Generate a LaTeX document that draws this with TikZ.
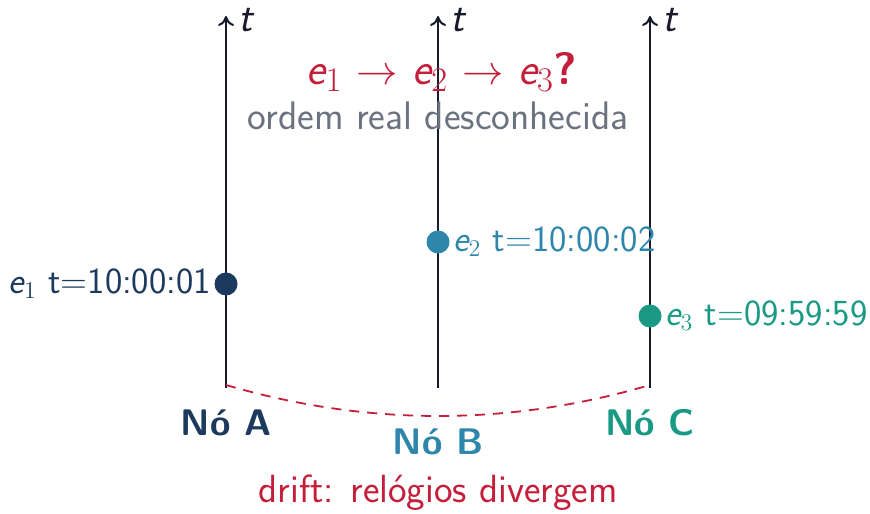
\documentclass[tikz,border=0pt]{standalone}
\usepackage{tikz}
\usetikzlibrary{arrows.meta}
\definecolor{cA}{HTML}{1C3A5E}
\definecolor{cB}{HTML}{2E86AB}
\definecolor{cC}{HTML}{1A9A85}
\definecolor{cRed}{HTML}{C41E3A}
\definecolor{cGray}{HTML}{6B7280}
\definecolor{cLine}{HTML}{1A1A2E}
\begin{document}
\begin{tikzpicture}[x=0.5pt,y=0.5pt,
  font=\sffamily,
  timeline/.style={draw=cLine,line width=1pt,-{To[length=5pt,width=8pt]}},
  evdot/.style={circle,fill=#1,inner sep=0pt,minimum size=11.5pt},
  evlabel/.style={text=#1,font=\sffamily\fontsize{18.4}{22}\selectfont,inner sep=1.5pt},
  nodelabel/.style={text=#1,font=\sffamily\bfseries\fontsize{18.5}{22}\selectfont},
  tlabel/.style={text=cLine,font=\sffamily\fontsize{21}{24}\selectfont,inner sep=1pt}]
\useasboundingbox (0,0) rectangle (870,513);
% timelines
\coordinate (Abot) at (226,125);
\coordinate (Atop) at (226,497);
\coordinate (Bbot) at (438,125);
\coordinate (Btop) at (438,497);
\coordinate (Cbot) at (650,125);
\coordinate (Ctop) at (650,497);
\draw[timeline] (Abot) -- (Atop);
\draw[timeline] (Bbot) -- (Btop);
\draw[timeline] (Cbot) -- (Ctop);
\node[tlabel,anchor=west] (tA) at (236,493) {\itshape t};
\node[tlabel,anchor=west] (tB) at (448,493) {\itshape t};
\node[tlabel,anchor=west] (tC) at (660,493) {\itshape t};
% events
\node[evdot=cA] (e1) at (226,229) {};
\node[evdot=cB] (e2) at (438,271) {};
\node[evdot=cC] (e3) at (650,197) {};
\node[evlabel=cA,anchor=east] (l1) at (e1.west) {{\itshape e}$_1$ t=10:00:01};
\node[evlabel=cB,anchor=west] (l2) at (e2.east) {{\itshape e}$_2$ t=10:00:02};
\node[evlabel=cC,anchor=west] (l3) at (e3.east) {{\itshape e}$_3$ t=09:59:59};
% node names
\node[nodelabel=cA] (nA) at (226,90) {Nó A};
\node[nodelabel=cB] (nB) at (438,71) {Nó B};
\node[nodelabel=cC] (nC) at (650,90) {Nó C};
% drift
\coordinate (dA) at (226,128);
\coordinate (dC) at (650,128);
\draw[cRed,line width=0.9pt,dash pattern=on 5pt off 4pt] (dA) .. controls (367,86.7) and (509,86.7) .. (dC);
\node[text=cRed,font=\sffamily\fontsize{19.7}{24}\selectfont] (drift) at (438,20) {drift: relógios divergem};
% title
\node[text=cRed,font=\sffamily\fontsize{22.7}{27}\selectfont] (title) at (442,441) {{\itshape e}$_1$ $\rightarrow$ {\itshape e}$_2$ $\rightarrow$ {\itshape e}$_3$\textbf{?}};
\node[text=cGray,font=\sffamily\fontsize{19.9}{24}\selectfont] (sub) at (438,397) {ordem real desconhecida};
\end{tikzpicture}
\end{document}
